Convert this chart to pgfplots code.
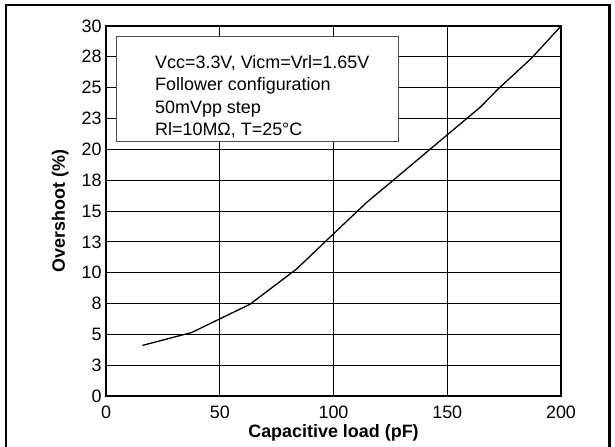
\documentclass[border=0pt]{standalone}
\usepackage{pgfplots}
\pgfplotsset{compat=1.18}
\usepackage{fontspec}
\setmainfont{Liberation Sans}
\begin{document}
\begin{tikzpicture}[x=1bp,y=1bp]
\useasboundingbox (0,0) rectangle (615,447);
\draw[line width=2.5bp] (6,-20) rectangle (609.5,442);
\begin{axis}[
  at={(106bp,51bp)}, anchor=south west,
  scale only axis, width=455bp, height=370bp,
  xmin=0, xmax=200, ymin=0, ymax=30,
  xtick={0,50,100,150,200},
  ytick={0,2.5,5,7.5,10,12.5,15,17.5,20,22.5,25,27.5,30},
  yticklabels={0,3,5,8,10,13,15,18,20,23,25,28,30},
  grid=major,
  major grid style={black, line width=0.8bp},
  axis line style={black, line width=1.2bp},
  tick style={black, line width=0.8bp},
  major tick length=4bp,
  tick align=inside,
  /pgf/number format/assume math mode=true,
  ticklabel style={font=\fontsize{18}{21}\selectfont},
  xticklabel style={yshift=-6bp},
  yticklabel style={xshift=-1bp},
  xlabel={\textbf{Capacitive load (pF)}},
  ylabel={\textbf{Overshoot (\%)}},
  label style={font=\fontsize{18}{21}\selectfont},
  xlabel style={yshift=1bp},
  ylabel style={yshift=6bp},
]
\addplot[black, line width=1.3bp] coordinates {
(16,4.1) (37.7,5.15) (63.3,7.44) (83.8,10.3) (100,13.15) (114.6,15.7)
(126.3,17.5) (142.4,20.0) (164.4,23.4) (172.4,24.9) (187.1,27.4) (200,30)
};
\end{axis}
\draw[fill=white, draw=black!70, line width=1bp] (116,305) rectangle (398,410);
\begin{scope}[every node/.style={anchor=base west, inner sep=0pt, font=\fontsize{18}{21}\selectfont}]
\node at (155,378.7) {Vcc=3.3V, Vicm=Vrl=1.65V};
\node at (155,356.2) {Follower configuration};
\node at (155,333.7) {50mVpp step};
\node at (155,311.8) {Rl=10MΩ, T=25°C};
\end{scope}
\end{tikzpicture}
\end{document}
